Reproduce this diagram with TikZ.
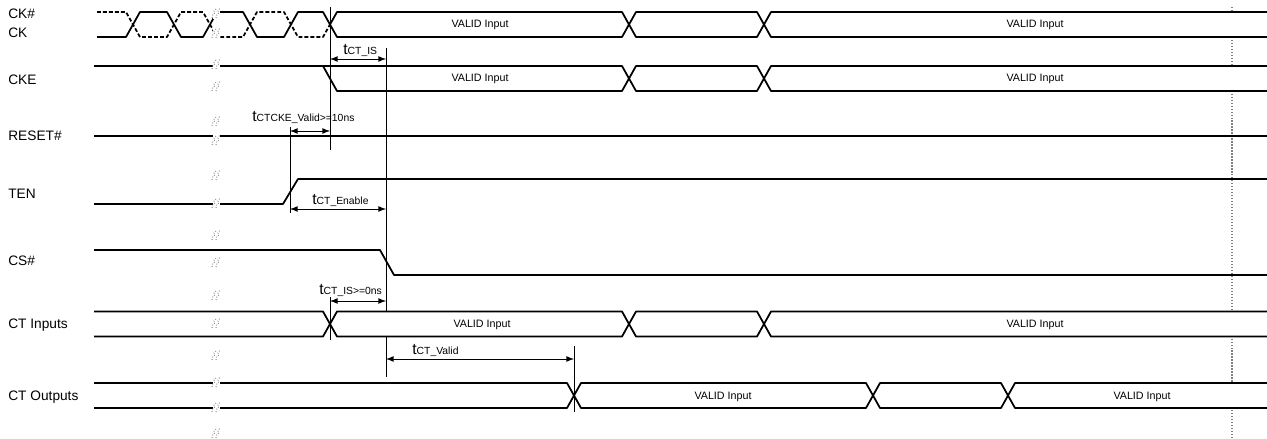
\documentclass[tikz,border=0pt]{standalone}
\usepackage{fontspec}
\setmainfont{Liberation Sans}
\usetikzlibrary{arrows}
\tikzset{
  sig/.style = {line width=1pt, black, line join=round},
  clk_n/.style = {sig, dash pattern=on 2.2pt off 1.2pt},% CK#, pointille
  bus/.style = {sig, fill=white},
  ref_line/.style = {line width=0.5pt, black},
  dim/.style = {<->, >=latex, line width=0.5pt},
  name_lbl/.style = {anchor=base west, inner sep=0pt,
    font=\fontsize{7.8}{9}\selectfont},
  valid_lbl/.style = {anchor=base, inner sep=0pt,
    font=\fontsize{6.1}{7}\selectfont},
  t_lbl/.style = {anchor=base west, inner sep=0pt,
    font=\fontsize{8.9}{10}\selectfont},
  brk/.pic = {
    \fill[white] (-3.5,-6) rectangle (3.5,6);
    \draw[gray, line width=0.5pt, densely dotted] (-4,5) -- (-3,1) -- (-1,0) -- (-2,-2) -- (1,-5);
    \draw[gray, line width=0.5pt, densely dotted] (0,5) -- (1,1) -- (3,0) -- (2,-2) -- (4,-5);
  }
}
\newcommand{\tsub}[1]{{\fontsize{5.9}{6}\selectfont #1}}
% #1 milieu y, #2 croisement gauche, #3 croisement droit
\newcommand{\validseg}[3]{%
  \draw[bus] (#2,#1) -- ++(7,-12.5) -- ({#3-7},{#1-12.5}) -- (#3,#1)
    -- ({#3-7},{#1+12.5}) -- ({#2+7},{#1+12.5}) -- cycle;}
% #1 milieu y, #2 croisement, ouvert a droite
\newcommand{\validend}[2]{%
  \fill[white] (#2,#1) -- ++(7,-12.5) -- (1267,{#1-12.5}) -- (1267,{#1+12.5})
    -- ({#2+7},{#1+12.5}) -- cycle;
  \draw[sig] (1267,{#1-12.5}) -- ({#2+7},{#1-12.5}) -- (#2,#1)
    -- ({#2+7},{#1+12.5}) -- (1267,{#1+12.5});}

\begin{document}
\begin{tikzpicture}[x=0.02cm, y=-0.02cm]
  \useasboundingbox (0,0) rectangle (1267,439);
  \coordinate (tA) at (290,0);
  \coordinate (tB) at (330,0);
  \coordinate (tC) at (386,0);
  \coordinate (tD) at (574,0);

  \draw[gray, line width=0.7pt, densely dotted] (1232,7) -- (1232,439);

  % noms des signaux
  \node[name_lbl] (ckb) at (8,19) {CK\#};
  \node[name_lbl] (ck) at (8,38) {CK};
  \node[name_lbl] (cke) at (8,85) {CKE};
  \node[name_lbl] (rst) at (8,140) {RESET\#};
  \node[name_lbl] (ten) at (8,198) {TEN};
  \node[name_lbl] (cs) at (8,265) {CS\#};
  \node[name_lbl] (cti) at (8,328) {CT Inputs};
  \node[name_lbl] (cto) at (8,400) {CT Outputs};

  % CK, CK#
  \draw[sig] (97,37) -- (126,37) -- (140,12) -- (167,12) -- (181,37) -- (203,37)
    -- (217,12) -- (243,12) -- (257,37) -- (284,37) -- (298,12) -- (323,12) -- (330,24.5);
  \draw[clk_n] (97,12) -- (126,12) -- (140,37) -- (167,37) -- (181,12) -- (203,12)
    -- (217,37) -- (243,37) -- (257,12) -- (284,12) -- (298,37) -- (323,37) -- (330,24.5);
  \validseg{24.5}{330}{629}
  \validseg{24.5}{629}{764}
  \validend{24.5}{764}

  % CKE
  \draw[sig] (94,66) -- (323,66);
  \draw[bus] (323,66) -- (337,91) -- (622,91) -- (629,78.5) -- (622,66) -- cycle;
  \validseg{78.5}{629}{764}
  \validend{78.5}{764}

  \draw[sig] (94,136) -- (1267,136);% RESET#
  \draw[sig] (94,204) -- (283,204) -- (298,179) -- (1267,179);% TEN
  \draw[sig] (94,250) -- (380,250) -- (394,275) -- (1267,275);% CS#

  % reperes verticaux
  \draw[ref_line] (tB |- 0,7) -- (tB |- 0,150);
  \draw[ref_line] (tB |- 0,297) -- (tB |- 0,340);
  \draw[ref_line] (tC |- 0,48) -- (tC |- 0,377);
  \draw[ref_line] (tA |- 0,127) -- (tA |- 0,213);
  \draw[ref_line] (tD |- 0,346) -- (tD |- 0,412);

  % CT Inputs
  \draw[sig] (94,311.5) -- (323,311.5) -- (330,324) -- (323,336.5) -- (94,336.5);
  \validseg{324}{330}{629}
  \validseg{324}{629}{764}
  \validend{324}{764}

  % CT Outputs
  \draw[sig] (94,383) -- (567,383) -- (574,395.5) -- (567,408) -- (94,408);
  \validseg{395.5}{574}{873}
  \validseg{395.5}{873}{1008}
  \validend{395.5}{1008}

  \node[valid_lbl] (v1) at (480,28) {VALID Input};
  \node[valid_lbl] (v2) at (1035,28) {VALID Input};
  \node[valid_lbl] (v3) at (480,82) {VALID Input};
  \node[valid_lbl] (v4) at (1035,82) {VALID Input};
  \node[valid_lbl] (v5) at (482,327.5) {VALID Input};
  \node[valid_lbl] (v6) at (1035,327.5) {VALID Input};
  \node[valid_lbl] (v7) at (723,399) {VALID Input};
  \node[valid_lbl] (v8) at (1142,399) {VALID Input};

  % coupures
  \foreach \y in {13,33,64,86,121,140,175,203,235,262,295,323,355,382,407,433}
    \pic at (216,\y) {brk};

  % temps
  \draw[dim] (tB |- 0,59) -- (tC |- 0,59);
  \draw[dim] (tA |- 0,131) -- (tB |- 0,131);
  \draw[dim] (tA |- 0,209) -- (tC |- 0,209);
  \draw[dim] (tB |- 0,301) -- (tC |- 0,301);
  \draw[dim] (tC |- 0,359) -- (tD |- 0,359);
  \node[t_lbl] (t_is) at (343,55) {t\tsub{CT\_IS}};
  \node[t_lbl] (t_cke) at (252,121) {t\tsub{CTCKE\_Valid>=10ns}};
  \node[t_lbl] (t_ena) at (312,204) {t\tsub{CT\_Enable}};
  \node[t_lbl] (t_is0) at (319,294) {t\tsub{CT\_IS>=0ns}};
  \node[t_lbl] (t_vld) at (412,354) {t\tsub{CT\_Valid}};
\end{tikzpicture}
\end{document}
